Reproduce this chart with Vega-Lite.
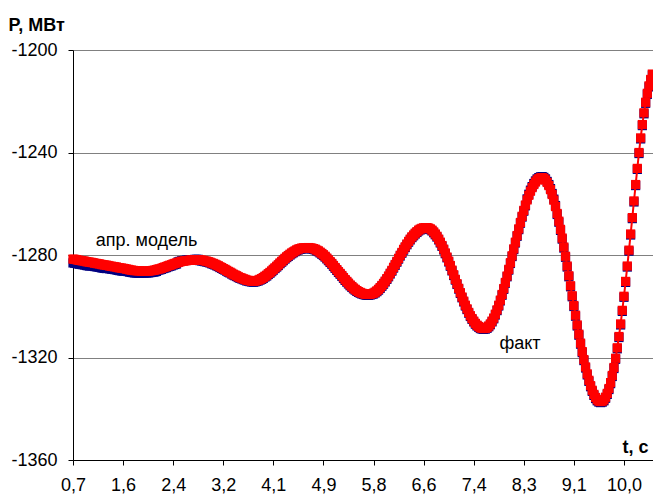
{
"$schema":"https://vega.github.io/schema/vega-lite/v6.json",
"width":580,"height":410,
"autosize":{"type":"none"},
"padding":{"left":73,"top":50,"right":0,"bottom":37},
"config":{"view":{"stroke":null},"font":"Liberation Sans"},
"datasets":{
"series":[
{"t":0.72,"fact":-1281.6,"model":-1283.1},{"t":0.748,"fact":-1281.7,"model":-1283.2},{"t":0.776,"fact":-1281.8,"model":-1283.3},{"t":0.804,"fact":-1282.0,"model":-1283.5},{"t":0.832,"fact":-1282.1,"model":-1283.6},{"t":0.86,"fact":-1282.2,"model":-1283.7},{"t":0.888,"fact":-1282.3,"model":-1283.8},{"t":0.916,"fact":-1282.4,"model":-1283.9},{"t":0.944,"fact":-1282.6,"model":-1284.1},{"t":0.972,"fact":-1282.7,"model":-1284.2},
{"t":1.0,"fact":-1282.8,"model":-1284.3},{"t":1.028,"fact":-1282.9,"model":-1284.2},{"t":1.056,"fact":-1283.0,"model":-1284.3},{"t":1.084,"fact":-1283.2,"model":-1284.5},{"t":1.112,"fact":-1283.3,"model":-1284.6},{"t":1.14,"fact":-1283.4,"model":-1284.7},{"t":1.168,"fact":-1283.5,"model":-1284.8},{"t":1.196,"fact":-1283.7,"model":-1285.0},{"t":1.224,"fact":-1283.8,"model":-1285.1},{"t":1.252,"fact":-1283.9,"model":-1285.2},
{"t":1.28,"fact":-1284.0,"model":-1285.3},{"t":1.308,"fact":-1284.1,"model":-1285.2},{"t":1.336,"fact":-1284.3,"model":-1285.4},{"t":1.364,"fact":-1284.4,"model":-1285.5},{"t":1.392,"fact":-1284.5,"model":-1285.6},{"t":1.42,"fact":-1284.6,"model":-1285.7},{"t":1.448,"fact":-1284.7,"model":-1285.8},{"t":1.476,"fact":-1284.9,"model":-1286.0},{"t":1.504,"fact":-1285.0,"model":-1286.1},{"t":1.532,"fact":-1285.1,"model":-1286.2},
{"t":1.56,"fact":-1285.2,"model":-1286.3},{"t":1.588,"fact":-1285.3,"model":-1286.2},{"t":1.616,"fact":-1285.5,"model":-1286.4},{"t":1.644,"fact":-1285.6,"model":-1286.5},{"t":1.672,"fact":-1285.8,"model":-1286.7},{"t":1.7,"fact":-1285.9,"model":-1286.8},{"t":1.728,"fact":-1286.0,"model":-1286.9},{"t":1.756,"fact":-1286.1,"model":-1287.0},{"t":1.784,"fact":-1286.1,"model":-1287.0},{"t":1.812,"fact":-1286.2,"model":-1287.1},
{"t":1.84,"fact":-1286.2,"model":-1287.1},{"t":1.868,"fact":-1286.3,"model":-1287.0},{"t":1.896,"fact":-1286.3,"model":-1287.0},{"t":1.924,"fact":-1286.3,"model":-1287.0},{"t":1.952,"fact":-1286.3,"model":-1287.0},{"t":1.98,"fact":-1286.3,"model":-1287.0},{"t":2.008,"fact":-1286.2,"model":-1286.9},{"t":2.036,"fact":-1286.1,"model":-1286.8},{"t":2.064,"fact":-1286.0,"model":-1286.7},{"t":2.092,"fact":-1285.9,"model":-1286.6},
{"t":2.12,"fact":-1285.7,"model":-1286.4},{"t":2.148,"fact":-1285.5,"model":-1285.9},{"t":2.176,"fact":-1285.4,"model":-1285.8},{"t":2.204,"fact":-1285.2,"model":-1285.6},{"t":2.232,"fact":-1284.9,"model":-1285.3},{"t":2.26,"fact":-1284.7,"model":-1285.1},{"t":2.288,"fact":-1284.5,"model":-1284.9},{"t":2.316,"fact":-1284.2,"model":-1284.6},{"t":2.344,"fact":-1284.0,"model":-1284.4},{"t":2.372,"fact":-1283.8,"model":-1284.2},
{"t":2.4,"fact":-1283.5,"model":-1283.9},{"t":2.428,"fact":-1283.3,"model":-1283.7},{"t":2.456,"fact":-1283.1,"model":-1283.5},{"t":2.484,"fact":-1282.9,"model":-1282.7},{"t":2.512,"fact":-1282.7,"model":-1282.5},{"t":2.54,"fact":-1282.5,"model":-1282.3},{"t":2.568,"fact":-1282.4,"model":-1282.2},{"t":2.596,"fact":-1282.3,"model":-1282.1},{"t":2.624,"fact":-1282.2,"model":-1282.0},{"t":2.652,"fact":-1282.1,"model":-1281.9},
{"t":2.68,"fact":-1282.0,"model":-1281.8},{"t":2.708,"fact":-1282.0,"model":-1281.8},{"t":2.736,"fact":-1282.0,"model":-1281.8},{"t":2.764,"fact":-1281.9,"model":-1281.7},{"t":2.792,"fact":-1281.9,"model":-1281.7},{"t":2.82,"fact":-1281.9,"model":-1281.7},{"t":2.848,"fact":-1281.9,"model":-1282.2},{"t":2.876,"fact":-1282.0,"model":-1282.3},{"t":2.904,"fact":-1282.1,"model":-1282.4},{"t":2.932,"fact":-1282.3,"model":-1282.6},
{"t":2.96,"fact":-1282.4,"model":-1282.7},{"t":2.988,"fact":-1282.6,"model":-1282.9},{"t":3.016,"fact":-1282.8,"model":-1283.1},{"t":3.044,"fact":-1283.1,"model":-1283.4},{"t":3.072,"fact":-1283.3,"model":-1283.6},{"t":3.1,"fact":-1283.6,"model":-1283.9},{"t":3.128,"fact":-1283.9,"model":-1284.2},{"t":3.156,"fact":-1284.2,"model":-1284.5},{"t":3.184,"fact":-1284.6,"model":-1284.9},{"t":3.212,"fact":-1284.9,"model":-1285.2},
{"t":3.24,"fact":-1285.3,"model":-1285.6},{"t":3.268,"fact":-1285.6,"model":-1285.9},{"t":3.296,"fact":-1286.0,"model":-1286.3},{"t":3.324,"fact":-1286.4,"model":-1286.7},{"t":3.352,"fact":-1286.7,"model":-1287.0},{"t":3.38,"fact":-1287.1,"model":-1287.4},{"t":3.408,"fact":-1287.5,"model":-1287.8},{"t":3.436,"fact":-1287.8,"model":-1288.1},{"t":3.464,"fact":-1288.1,"model":-1288.4},{"t":3.492,"fact":-1288.5,"model":-1288.8},
{"t":3.52,"fact":-1288.8,"model":-1289.1},{"t":3.548,"fact":-1289.0,"model":-1289.3},{"t":3.576,"fact":-1289.3,"model":-1289.6},{"t":3.604,"fact":-1289.5,"model":-1289.8},{"t":3.632,"fact":-1289.8,"model":-1290.1},{"t":3.66,"fact":-1289.9,"model":-1290.2},{"t":3.688,"fact":-1290.1,"model":-1290.4},{"t":3.716,"fact":-1290.2,"model":-1290.5},{"t":3.744,"fact":-1290.3,"model":-1290.6},{"t":3.772,"fact":-1290.2,"model":-1290.5},
{"t":3.8,"fact":-1290.0,"model":-1290.3},{"t":3.828,"fact":-1289.8,"model":-1290.1},{"t":3.856,"fact":-1289.5,"model":-1289.8},{"t":3.884,"fact":-1289.2,"model":-1289.5},{"t":3.912,"fact":-1288.8,"model":-1289.1},{"t":3.94,"fact":-1288.3,"model":-1288.6},{"t":3.968,"fact":-1287.9,"model":-1288.2},{"t":3.996,"fact":-1287.3,"model":-1287.6},{"t":4.024,"fact":-1286.8,"model":-1287.1},{"t":4.052,"fact":-1286.2,"model":-1286.5},
{"t":4.08,"fact":-1285.6,"model":-1285.9},{"t":4.108,"fact":-1285.0,"model":-1285.3},{"t":4.136,"fact":-1284.4,"model":-1284.7},{"t":4.164,"fact":-1283.8,"model":-1284.1},{"t":4.192,"fact":-1283.1,"model":-1283.4},{"t":4.22,"fact":-1282.5,"model":-1282.8},{"t":4.248,"fact":-1281.9,"model":-1282.2},{"t":4.276,"fact":-1281.3,"model":-1281.6},{"t":4.304,"fact":-1280.7,"model":-1281.0},{"t":4.332,"fact":-1280.2,"model":-1280.5},
{"t":4.36,"fact":-1279.7,"model":-1280.0},{"t":4.388,"fact":-1279.2,"model":-1279.5},{"t":4.416,"fact":-1278.8,"model":-1279.1},{"t":4.444,"fact":-1278.4,"model":-1278.7},{"t":4.472,"fact":-1278.0,"model":-1278.3},{"t":4.5,"fact":-1277.7,"model":-1278.0},{"t":4.528,"fact":-1277.5,"model":-1277.8},{"t":4.556,"fact":-1277.3,"model":-1277.6},{"t":4.584,"fact":-1277.2,"model":-1277.5},{"t":4.612,"fact":-1277.2,"model":-1277.5},
{"t":4.64,"fact":-1277.2,"model":-1277.5},{"t":4.668,"fact":-1277.1,"model":-1277.4},{"t":4.696,"fact":-1277.2,"model":-1277.5},{"t":4.724,"fact":-1277.3,"model":-1277.6},{"t":4.752,"fact":-1277.5,"model":-1277.8},{"t":4.78,"fact":-1277.7,"model":-1278.0},{"t":4.808,"fact":-1278.1,"model":-1278.4},{"t":4.836,"fact":-1278.4,"model":-1278.7},{"t":4.864,"fact":-1278.9,"model":-1279.2},{"t":4.892,"fact":-1279.4,"model":-1279.7},
{"t":4.92,"fact":-1279.9,"model":-1280.2},{"t":4.948,"fact":-1280.5,"model":-1280.8},{"t":4.976,"fact":-1281.2,"model":-1281.5},{"t":5.004,"fact":-1281.9,"model":-1282.2},{"t":5.032,"fact":-1282.6,"model":-1282.9},{"t":5.06,"fact":-1283.3,"model":-1283.6},{"t":5.088,"fact":-1284.1,"model":-1284.4},{"t":5.116,"fact":-1284.9,"model":-1285.2},{"t":5.144,"fact":-1285.7,"model":-1286.0},{"t":5.172,"fact":-1286.5,"model":-1286.8},
{"t":5.2,"fact":-1287.2,"model":-1287.5},{"t":5.228,"fact":-1288.0,"model":-1288.3},{"t":5.256,"fact":-1288.8,"model":-1289.1},{"t":5.284,"fact":-1289.6,"model":-1289.9},{"t":5.312,"fact":-1290.3,"model":-1290.6},{"t":5.34,"fact":-1291.0,"model":-1291.3},{"t":5.368,"fact":-1291.7,"model":-1292.0},{"t":5.396,"fact":-1292.3,"model":-1292.6},{"t":5.424,"fact":-1292.9,"model":-1293.2},{"t":5.452,"fact":-1293.4,"model":-1293.7},
{"t":5.48,"fact":-1293.9,"model":-1294.2},{"t":5.508,"fact":-1294.3,"model":-1294.6},{"t":5.536,"fact":-1294.6,"model":-1294.9},{"t":5.564,"fact":-1294.9,"model":-1295.2},{"t":5.592,"fact":-1295.1,"model":-1295.4},{"t":5.62,"fact":-1295.3,"model":-1295.6},{"t":5.648,"fact":-1295.4,"model":-1295.7},{"t":5.676,"fact":-1295.4,"model":-1295.7},{"t":5.704,"fact":-1295.3,"model":-1295.6},{"t":5.732,"fact":-1295.1,"model":-1295.4},
{"t":5.76,"fact":-1294.9,"model":-1295.2},{"t":5.788,"fact":-1294.5,"model":-1294.8},{"t":5.816,"fact":-1294.0,"model":-1294.3},{"t":5.844,"fact":-1293.4,"model":-1293.7},{"t":5.872,"fact":-1292.7,"model":-1293.0},{"t":5.9,"fact":-1291.9,"model":-1292.2},{"t":5.928,"fact":-1291.1,"model":-1291.4},{"t":5.956,"fact":-1290.2,"model":-1290.5},{"t":5.984,"fact":-1289.2,"model":-1289.5},{"t":6.012,"fact":-1288.2,"model":-1288.5},
{"t":6.04,"fact":-1287.1,"model":-1287.4},{"t":6.068,"fact":-1286.0,"model":-1286.3},{"t":6.096,"fact":-1284.8,"model":-1285.1},{"t":6.124,"fact":-1283.7,"model":-1284.0},{"t":6.152,"fact":-1282.5,"model":-1282.8},{"t":6.18,"fact":-1281.3,"model":-1281.6},{"t":6.208,"fact":-1280.1,"model":-1280.4},{"t":6.236,"fact":-1279.0,"model":-1279.3},{"t":6.264,"fact":-1277.8,"model":-1278.1},{"t":6.292,"fact":-1276.8,"model":-1277.1},
{"t":6.32,"fact":-1275.7,"model":-1276.0},{"t":6.348,"fact":-1274.7,"model":-1275.0},{"t":6.376,"fact":-1273.8,"model":-1274.1},{"t":6.404,"fact":-1272.9,"model":-1273.2},{"t":6.432,"fact":-1272.2,"model":-1272.5},{"t":6.46,"fact":-1271.5,"model":-1271.8},{"t":6.488,"fact":-1270.9,"model":-1271.2},{"t":6.516,"fact":-1270.3,"model":-1270.6},{"t":6.544,"fact":-1269.9,"model":-1270.2},{"t":6.572,"fact":-1269.6,"model":-1269.9},
{"t":6.6,"fact":-1269.4,"model":-1269.7},{"t":6.628,"fact":-1269.3,"model":-1269.6},{"t":6.656,"fact":-1269.3,"model":-1269.6},{"t":6.684,"fact":-1269.5,"model":-1269.8},{"t":6.712,"fact":-1269.8,"model":-1270.1},{"t":6.74,"fact":-1270.3,"model":-1270.6},{"t":6.768,"fact":-1271.0,"model":-1271.3},{"t":6.796,"fact":-1271.8,"model":-1272.1},{"t":6.824,"fact":-1272.7,"model":-1273.0},{"t":6.852,"fact":-1273.8,"model":-1274.1},
{"t":6.88,"fact":-1275.0,"model":-1275.3},{"t":6.908,"fact":-1276.3,"model":-1276.6},{"t":6.936,"fact":-1277.7,"model":-1278.0},{"t":6.964,"fact":-1279.2,"model":-1279.5},{"t":6.992,"fact":-1280.8,"model":-1281.1},{"t":7.02,"fact":-1282.4,"model":-1282.7},{"t":7.048,"fact":-1284.1,"model":-1284.4},{"t":7.076,"fact":-1285.9,"model":-1286.2},{"t":7.104,"fact":-1287.7,"model":-1288.0},{"t":7.132,"fact":-1289.5,"model":-1289.8},
{"t":7.16,"fact":-1291.2,"model":-1291.5},{"t":7.188,"fact":-1293.0,"model":-1293.3},{"t":7.216,"fact":-1294.7,"model":-1295.0},{"t":7.244,"fact":-1296.4,"model":-1296.7},{"t":7.272,"fact":-1298.0,"model":-1298.3},{"t":7.3,"fact":-1299.6,"model":-1299.9},{"t":7.328,"fact":-1301.0,"model":-1301.3},{"t":7.356,"fact":-1302.4,"model":-1302.7},{"t":7.384,"fact":-1303.7,"model":-1304.0},{"t":7.412,"fact":-1304.8,"model":-1305.1},
{"t":7.44,"fact":-1305.8,"model":-1306.1},{"t":7.468,"fact":-1306.7,"model":-1307.0},{"t":7.496,"fact":-1307.4,"model":-1307.7},{"t":7.524,"fact":-1307.9,"model":-1308.2},{"t":7.552,"fact":-1308.4,"model":-1308.7},{"t":7.58,"fact":-1308.6,"model":-1308.9},{"t":7.608,"fact":-1308.7,"model":-1309.0},{"t":7.636,"fact":-1308.6,"model":-1308.9},{"t":7.664,"fact":-1308.3,"model":-1308.6},{"t":7.692,"fact":-1307.7,"model":-1308.0},
{"t":7.72,"fact":-1306.9,"model":-1307.2},{"t":7.748,"fact":-1305.8,"model":-1306.1},{"t":7.776,"fact":-1304.6,"model":-1304.9},{"t":7.804,"fact":-1303.1,"model":-1303.4},{"t":7.832,"fact":-1301.4,"model":-1301.7},{"t":7.86,"fact":-1299.6,"model":-1299.9},{"t":7.888,"fact":-1297.6,"model":-1297.9},{"t":7.916,"fact":-1295.4,"model":-1295.7},{"t":7.944,"fact":-1293.1,"model":-1293.4},{"t":7.972,"fact":-1290.7,"model":-1291.0},
{"t":8.0,"fact":-1288.2,"model":-1288.5},{"t":8.028,"fact":-1285.6,"model":-1285.9},{"t":8.056,"fact":-1283.0,"model":-1283.3},{"t":8.084,"fact":-1280.3,"model":-1280.6},{"t":8.112,"fact":-1277.6,"model":-1277.9},{"t":8.14,"fact":-1275.0,"model":-1275.3},{"t":8.168,"fact":-1272.4,"model":-1272.7},{"t":8.196,"fact":-1269.8,"model":-1270.1},{"t":8.224,"fact":-1267.3,"model":-1267.6},{"t":8.252,"fact":-1264.9,"model":-1265.2},
{"t":8.28,"fact":-1262.6,"model":-1262.9},{"t":8.308,"fact":-1260.5,"model":-1260.8},{"t":8.336,"fact":-1258.5,"model":-1258.1},{"t":8.364,"fact":-1256.7,"model":-1256.3},{"t":8.392,"fact":-1255.1,"model":-1254.7},{"t":8.42,"fact":-1253.7,"model":-1253.3},{"t":8.448,"fact":-1252.5,"model":-1252.1},{"t":8.476,"fact":-1251.5,"model":-1251.1},{"t":8.504,"fact":-1250.7,"model":-1250.3},{"t":8.532,"fact":-1250.2,"model":-1249.8},
{"t":8.56,"fact":-1249.9,"model":-1249.5},{"t":8.588,"fact":-1249.8,"model":-1249.4},{"t":8.616,"fact":-1250.1,"model":-1249.7},{"t":8.644,"fact":-1250.7,"model":-1250.3},{"t":8.672,"fact":-1251.7,"model":-1251.3},{"t":8.7,"fact":-1252.9,"model":-1252.5},{"t":8.728,"fact":-1254.5,"model":-1254.1},{"t":8.756,"fact":-1256.4,"model":-1256.0},{"t":8.784,"fact":-1258.6,"model":-1258.2},{"t":8.812,"fact":-1261.1,"model":-1260.7},
{"t":8.84,"fact":-1263.8,"model":-1264.2},{"t":8.868,"fact":-1266.8,"model":-1267.2},{"t":8.896,"fact":-1270.0,"model":-1270.4},{"t":8.924,"fact":-1273.4,"model":-1273.8},{"t":8.952,"fact":-1276.9,"model":-1277.3},{"t":8.98,"fact":-1280.5,"model":-1280.9},{"t":9.008,"fact":-1284.3,"model":-1284.7},{"t":9.036,"fact":-1288.1,"model":-1288.5},{"t":9.064,"fact":-1292.0,"model":-1292.4},{"t":9.092,"fact":-1295.9,"model":-1296.3},
{"t":9.12,"fact":-1299.7,"model":-1300.1},{"t":9.148,"fact":-1303.5,"model":-1303.9},{"t":9.176,"fact":-1307.3,"model":-1307.7},{"t":9.204,"fact":-1310.9,"model":-1311.3},{"t":9.232,"fact":-1314.4,"model":-1314.8},{"t":9.26,"fact":-1317.7,"model":-1318.1},{"t":9.288,"fact":-1320.8,"model":-1321.2},{"t":9.316,"fact":-1323.7,"model":-1324.1},{"t":9.344,"fact":-1326.4,"model":-1326.8},{"t":9.372,"fact":-1328.9,"model":-1329.3},
{"t":9.4,"fact":-1331.0,"model":-1331.4},{"t":9.428,"fact":-1332.8,"model":-1333.2},{"t":9.456,"fact":-1334.4,"model":-1334.8},{"t":9.484,"fact":-1335.6,"model":-1336.0},{"t":9.512,"fact":-1336.5,"model":-1336.9},{"t":9.54,"fact":-1337.0,"model":-1337.4},{"t":9.568,"fact":-1337.2,"model":-1337.6},{"t":9.596,"fact":-1337.0,"model":-1337.4},{"t":9.624,"fact":-1336.5,"model":-1336.9},{"t":9.652,"fact":-1335.5,"model":-1335.9},
{"t":9.68,"fact":-1334.0,"model":-1334.4},{"t":9.708,"fact":-1332.1,"model":-1332.5},{"t":9.736,"fact":-1329.8,"model":-1330.2},{"t":9.764,"fact":-1327.0,"model":-1327.4},{"t":9.792,"fact":-1323.9,"model":-1324.3},{"t":9.82,"fact":-1320.3,"model":-1320.7},{"t":9.848,"fact":-1316.2,"model":-1316.6},{"t":9.876,"fact":-1311.8,"model":-1312.2},{"t":9.904,"fact":-1306.9,"model":-1307.3},{"t":9.932,"fact":-1301.6,"model":-1302.0},
{"t":9.96,"fact":-1296.1,"model":-1296.5},{"t":9.988,"fact":-1290.3,"model":-1290.7},{"t":10.016,"fact":-1284.3,"model":-1284.7},{"t":10.044,"fact":-1278.1,"model":-1278.5},{"t":10.072,"fact":-1271.8,"model":-1272.2},{"t":10.1,"fact":-1265.4,"model":-1265.8},{"t":10.128,"fact":-1258.9,"model":-1259.3},{"t":10.156,"fact":-1252.5,"model":-1252.9},{"t":10.184,"fact":-1246.2,"model":-1246.6},{"t":10.212,"fact":-1240.0,"model":-1240.4},
{"t":10.24,"fact":-1234.3,"model":-1234.7},{"t":10.268,"fact":-1229.1,"model":-1229.5},{"t":10.296,"fact":-1224.5,"model":-1224.9},{"t":10.324,"fact":-1220.4,"model":-1220.8},{"t":10.352,"fact":-1216.9,"model":-1217.3},{"t":10.38,"fact":-1214.0,"model":-1214.4},{"t":10.408,"fact":-1211.5,"model":-1211.9},{"t":10.436,"fact":-1209.4,"model":-1209.8}
],
"notes":[
{"t":1.953,"P":-1276.3,"label":"апр. модель"},
{"t":8.216,"P":-1316.5,"label":"факт"}
]},
"layer":[
{"data":{"name":"series"},
"mark":{"type":"point","shape":"square","filled":true,"size":85,"color":"#000080","opacity":1,"strokeWidth":0},
"encoding":{
"x":{"field":"t","type":"quantitative","scale":{"domain":[0.72,10.447],"nice":false,"zero":false},
"axis":{"values":[0.72,1.56,2.4,3.24,4.08,4.92,5.76,6.6,7.44,8.28,9.12,9.96],"labelExpr":"replace(format(datum.value,'.1f'),'.',',')","grid":false,"domainColor":"#000000","tickColor":"#000000","tickSize":5,"labelFontSize":18,"labelColor":"#000000","labelPadding":11,"labelFlush":false,"labelOverlap":false,"title":"t, с","titleX":575,"titleY":-8,"titleAlign":"right","titleBaseline":"alphabetic","titleFontSize":18,"titleFontWeight":"bold","titleColor":"#000000"}},
"y":{"field":"model","type":"quantitative","scale":{"domain":[-1360,-1200],"nice":false,"zero":false},
"axis":{"values":[-1360,-1320,-1280,-1240,-1200],"labelExpr":"'' + datum.value","grid":true,"gridColor":"#808080","gridWidth":1,"domainColor":"#000000","tickColor":"#000000","tickSize":5,"labelFontSize":18,"labelColor":"#000000","labelPadding":11,"title":"P, МВт","titleAngle":0,"titleX":-65,"titleY":-20,"titleAlign":"left","titleBaseline":"alphabetic","titleFontSize":18,"titleFontWeight":"bold","titleColor":"#000000"}}}},
{"data":{"name":"series"},
"mark":{"type":"line","color":"#FF0000","strokeWidth":2},
"encoding":{"x":{"field":"t","type":"quantitative"},"y":{"field":"fact","type":"quantitative"}}},
{"data":{"name":"series"},
"mark":{"type":"point","shape":"square","filled":true,"size":85,"color":"#FF0000","opacity":1,"strokeWidth":0},
"encoding":{"x":{"field":"t","type":"quantitative"},"y":{"field":"fact","type":"quantitative"}}},
{"data":{"name":"notes"},
"mark":{"type":"text","fontSize":18,"align":"center","baseline":"alphabetic","color":"#000000"},
"encoding":{"x":{"field":"t","type":"quantitative"},"y":{"field":"P","type":"quantitative"},"text":{"field":"label"}}}
]
}
